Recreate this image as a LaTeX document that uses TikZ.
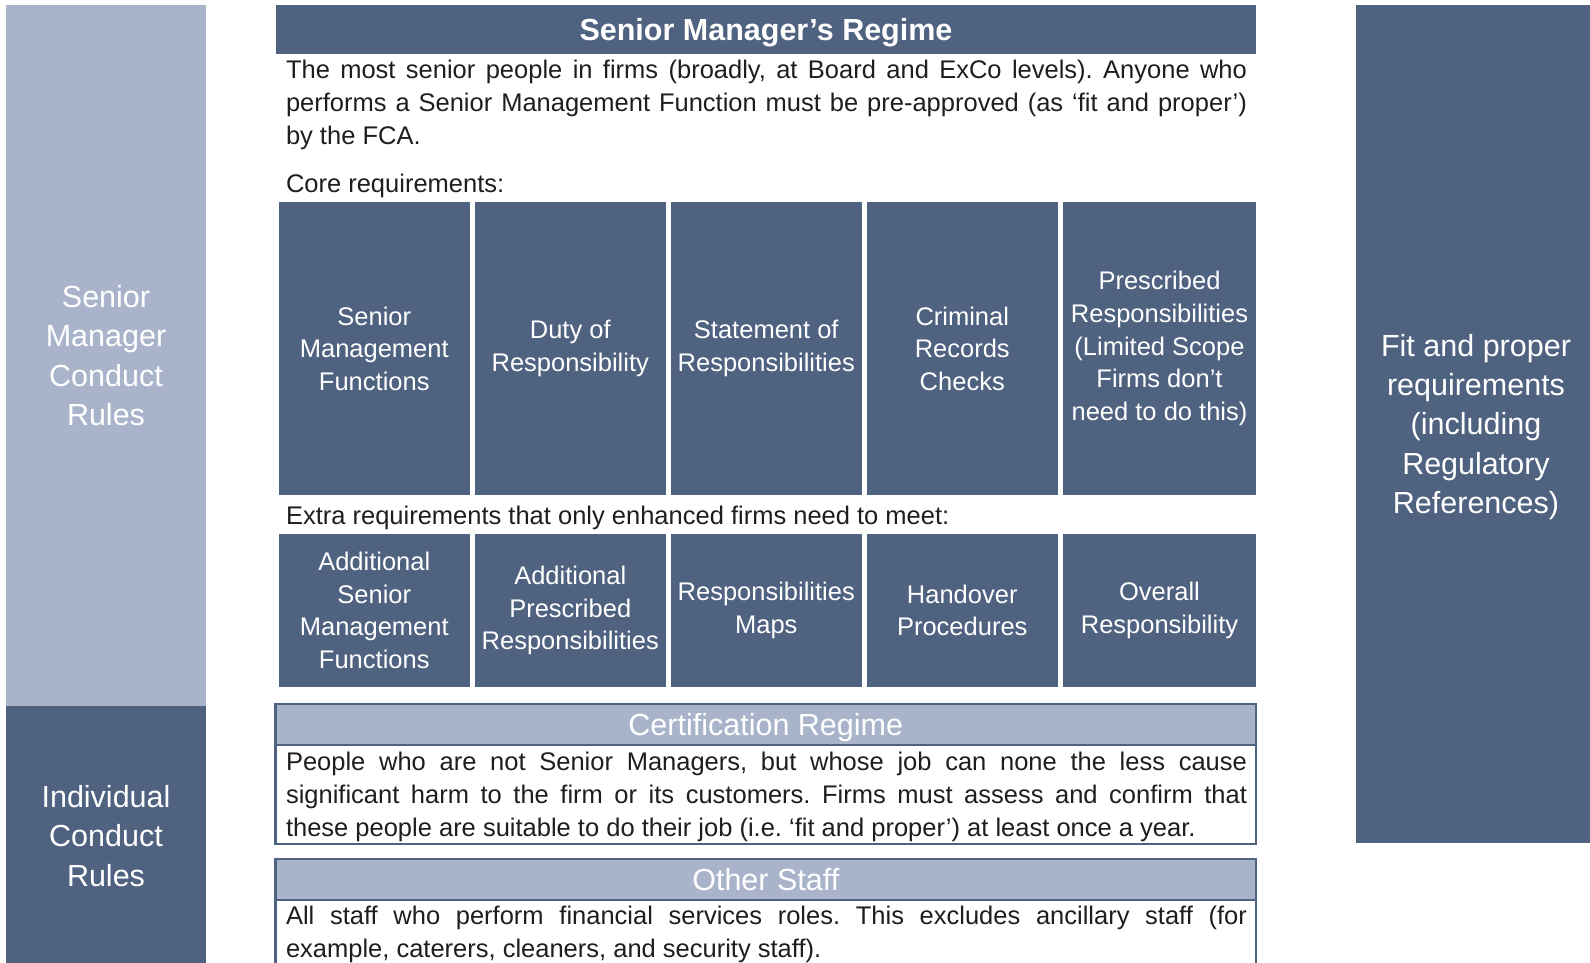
\documentclass[tikz,border=0pt]{standalone}
\usepackage{fontspec}
\setmainfont{Liberation Sans}[WordSpace={1,2,0}]
\definecolor{navy}{HTML}{4F6280}
\definecolor{mist}{HTML}{A9B4CB}
\definecolor{ink}{HTML}{1E1E1E}

\newcommand{\bodyfont}{\fontsize{25.5}{33}\selectfont}
\newcommand{\bigfont}{\fontsize{30.5}{39.2}\selectfont}

\tikzset{
  block/.style={anchor=north west, inner sep=0pt, outer sep=0pt, draw=none},
  sidepanel/.style={block, fill=#1, text=white, align=center, font=\bigfont},
  reqbox/.style={block, fill=navy, text=white, align=center,
    font=\fontsize{25.5}{32.6}\selectfont},
  regimehead/.style={block, fill=mist, draw=navy, line width=2.2pt,
    text=white, font=\bigfont, text height=22pt, text depth=0pt},
  regimebody/.style={block, fill=white, draw=navy, line width=2.2pt},
  para/.style={anchor=base west, inner sep=0pt, outer sep=0pt, text=ink,
    text width=961pt, align=justify, font=\bodyfont},
  caption/.style={anchor=base west, inner sep=0pt, outer sep=0pt, text=ink, font=\bodyfont},
}

\begin{document}
\hyphenpenalty=10000
\exhyphenpenalty=10000
\tolerance=9999
\frenchspacing
\begin{tikzpicture}[x=1pt,y=-1pt]
\useasboundingbox (0,0) rectangle (1590,963);

% side panels
\node[sidepanel=mist, minimum width=200pt, minimum height=701pt] (smcr) at (6,5)
  {Senior\\Manager\\Conduct\\Rules};
\node[sidepanel=navy, minimum width=200pt, minimum height=260pt] (icr) at (6,706)
  {Individual\\Conduct\\Rules};
\node[sidepanel=navy, minimum width=240pt, minimum height=838pt] (fit) at (1356,5) {};
\node[text=white, align=center, font=\bigfont, inner sep=0pt] (fittext) at ([yshift=-3pt]fit.center)
  {Fit and proper\\requirements\\(including\\Regulatory\\References)};

% Senior Manager's Regime
\node[block, fill=navy, text=white, minimum width=980pt, minimum height=49pt,
  text height=22pt, text depth=0pt,
  font=\bfseries\fontsize{30.5}{36}\selectfont] (smr) at (276,5) {Senior Manager’s Regime};
\node[para] (smrtext) at (286,79)
  {The most senior people in firms (broadly, at Board and ExCo levels). Anyone who performs a Senior Management Function must be pre-approved (as ‘fit and proper’) by the FCA.};

\node[caption] (core) at (286,192.5) {Core requirements:};
\node[reqbox, minimum width=190.5pt, minimum height=293pt] (c1) at (279,202) {Senior\\Management\\Functions};
\node[reqbox, minimum width=190.5pt, minimum height=293pt] (c2) at (475,202) {Duty of\\Responsibility};
\node[reqbox, minimum width=190.5pt, minimum height=293pt] (c3) at (671,202) {Statement of\\Responsibilities};
\node[reqbox, minimum width=190.5pt, minimum height=293pt] (c4) at (867,202) {Criminal\\Records\\Checks};
\node[reqbox, minimum width=193pt, minimum height=293pt] (c5) at (1063,202) {Prescribed\\Responsibilities\\(Limited Scope\\Firms don’t\\need to do this)};

\node[caption] (extra) at (286,524) {Extra requirements that only enhanced firms need to meet:};
\node[reqbox, minimum width=190.5pt, minimum height=153pt] (e1) at (279,534) {Additional\\Senior\\Management\\Functions};
\node[reqbox, minimum width=190.5pt, minimum height=153pt] (e2) at (475,534) {Additional\\Prescribed\\Responsibilities};
\node[reqbox, minimum width=190.5pt, minimum height=153pt] (e3) at (671,534) {Responsibilities\\Maps};
\node[reqbox, minimum width=190.5pt, minimum height=153pt] (e4) at (867,534) {Handover\\Procedures};
\node[reqbox, minimum width=193pt, minimum height=153pt] (e5) at (1063,534) {Overall\\Responsibility};

% Certification Regime
\node[regimebody, minimum width=980.5pt, minimum height=99pt] (certbody) at (275.5,745) {};
\node[regimehead, minimum width=980.5pt, minimum height=41pt] (certhead) at (275.5,704) {Certification Regime};
\node[para] (certtext) at (286,770.5)
  {People who are not Senior Managers, but whose job can none the less cause significant harm to the firm or its customers. Firms must assess and confirm that these people are suitable to do their job (i.e. ‘fit and proper’) at least once a year.};

% Other Staff
\node[regimebody, minimum width=980.5pt, minimum height=80pt] (otherbody) at (275.5,900) {};
\node[regimehead, minimum width=980.5pt, minimum height=41pt] (otherhead) at (275.5,859) {Other Staff};
\node[para] (othertext) at (286,924.5)
  {All staff who perform financial services roles. This excludes ancillary staff (for example, caterers, cleaners, and security staff).};
\end{tikzpicture}
\end{document}
